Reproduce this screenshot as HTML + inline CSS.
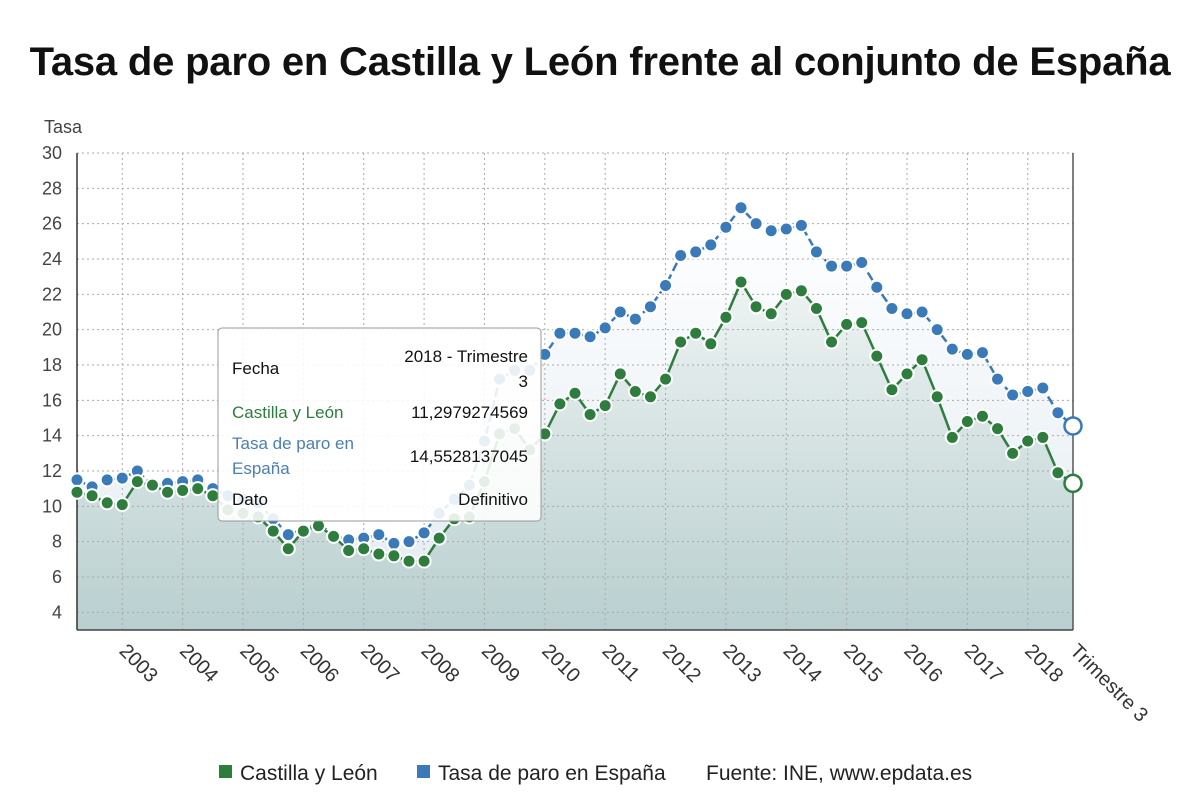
<!DOCTYPE html>
<html><head><meta charset="utf-8"><style>
body{margin:0;background:#fff;font-family:"Liberation Sans",sans-serif;}
#wrap{position:relative;width:1200px;height:808px;overflow:hidden;}
h1{position:absolute;left:0;top:40px;width:1200px;margin:0;text-align:center;font-size:40px;font-weight:bold;color:#111;letter-spacing:-0.2px;}
</style></head><body>
<div id="wrap">
<h1>Tasa de paro en Castilla y León frente al conjunto de España</h1>
<svg id="svg" width="1200" height="808" style="position:absolute;left:0;top:0"></svg>
</div>
<script>
const years=["2003","2004","2005","2006","2007","2008","2009","2010","2011","2012","2013","2014","2015","2016","2017","2018","Trimestre 3"];
const yTicks=[4,6,8,10,12,14,16,18,20,22,24,26,28,30];
const spain=[11.5,11.1,11.5,11.6,12.0,11.2,11.3,11.4,11.5,11.0,10.6,10.4,10.2,9.3,8.4,8.7,9.0,8.4,8.1,8.2,8.4,7.9,8.0,8.5,9.6,10.4,11.2,13.7,17.2,17.7,17.7,18.6,19.8,19.8,19.6,20.1,21.0,20.6,21.3,22.5,24.2,24.4,24.8,25.8,26.9,26.0,25.6,25.7,25.9,24.4,23.6,23.6,23.8,22.4,21.2,20.9,21.0,20.0,18.9,18.6,18.7,17.2,16.3,16.5,16.7,15.3,14.55];
const cyl=[10.8,10.6,10.2,10.1,11.4,11.2,10.8,10.9,11.0,10.6,9.8,9.6,9.4,8.6,7.6,8.6,8.9,8.3,7.5,7.6,7.3,7.2,6.9,6.9,8.2,9.3,9.4,11.4,14.1,14.4,13.2,14.1,15.8,16.4,15.2,15.7,17.5,16.5,16.2,17.2,19.3,19.8,19.2,20.7,22.7,21.3,20.9,22.0,22.2,21.2,19.3,20.3,20.4,18.5,16.6,17.5,18.3,16.2,13.9,14.8,15.1,14.4,13.0,13.7,13.9,11.9,11.3];
const NS="http://www.w3.org/2000/svg";
const svg=document.getElementById('svg');
const X0=77,X1=1073,Y0=630,Y1=153,YMIN=3,YMAX=30;
const n=spain.length;
const xs=i=>X0+i*(X1-X0)/(n-1);
const ys=v=>Y0-(v-YMIN)*(Y0-Y1)/(YMAX-YMIN);
function mk(t,a,p){const e=document.createElementNS(NS,t);for(const k in a)e.setAttribute(k,a[k]);(p||svg).appendChild(e);return e;}
const defs=mk('defs',{});
const g1=mk('linearGradient',{id:'gA',x1:0,y1:0,x2:0,y2:1},defs);
mk('stop',{offset:'0','stop-color':'#ffffff','stop-opacity':'1'},g1);
mk('stop',{offset:'1','stop-color':'#e2ebf2','stop-opacity':'1'},g1);
const g2=mk('linearGradient',{id:'gB',x1:0,y1:0,x2:0,y2:1},defs);
mk('stop',{offset:'0','stop-color':'#eef3f3'},g2);
mk('stop',{offset:'1','stop-color':'#b9cfcf'},g2);
function areaPath(arr){let d='M'+xs(0)+','+Y0;arr.forEach((v,i)=>d+=' L'+xs(i)+','+ys(v));return d+' L'+xs(n-1)+','+Y0+'Z';}
const a1=mk('path',{d:areaPath(spain),fill:'url(#gA)'});


const a2=mk('path',{d:areaPath(cyl),fill:'url(#gB)'});


yTicks.forEach(v=>{
 const l=mk('line',{x1:X0,x2:X1,y1:ys(v),y2:ys(v),stroke:'#aaa','stroke-dasharray':'2,3','stroke-width':1});
 
 
 const t=mk('text',{x:62,y:ys(v)+6,'text-anchor':'end','font-size':18,fill:'#444'});
 t.textContent=v;
 
 
});
years.forEach((y,k)=>{
 const i=k<16?4*k+3:n-1;
 const x=xs(i);
 if(k<16){const l=mk('line',{x1:x,x2:x,y1:Y1,y2:Y0,stroke:'#aaa','stroke-dasharray':'2,3'});
 
 }
 const t=mk('text',{x:x-4,y:Y0+22,'font-size':20,fill:'#333',transform:`rotate(45 ${x-4} ${Y0+22})`});
 t.textContent=y;
 
 
});
mk('line',{x1:X0,x2:X0,y1:Y1,y2:Y0,stroke:'#333','stroke-width':1.5});
mk('line',{x1:X1,x2:X1,y1:Y1,y2:Y0,stroke:'#555','stroke-width':1.5});
mk('line',{x1:X0,x2:X1,y1:Y0,y2:Y0,stroke:'#444','stroke-width':1.5});
const yt=mk('text',{x:44,y:133,'font-size':18,fill:'#444'});yt.textContent='Tasa';


function series(arr,col,name){
 let d='';arr.forEach((v,i)=>d+=(i?' L':'M')+xs(i)+','+ys(v));
 const p=mk('path',{d,fill:'none',stroke:col,'stroke-width':2.5,'stroke-dasharray':name==='spain'?'9,4':'none'});
 
 
 arr.forEach((v,i)=>{
  const last=i===n-1;
  const c=mk('circle',{cx:xs(i),cy:ys(v),r:last?8.5:6.5,fill:last?'#fff':col,stroke:last?col:'#fff','stroke-width':last?2.5:2});
  
  
 });
}
series(spain,'#3a7ab8','spain');
series(cyl,'#2e7d3e','cyl');
const tg=mk('g',{});


mk('rect',{x:218,y:328,width:323,height:193,rx:4,fill:'#fff','fill-opacity':0.88,stroke:'#999','stroke-width':1},tg);
const rows=[[232,374,'Fecha','#111','start'],[528,362,'2018 - Trimestre','#111','end'],[528,387,'3','#111','end'],[232,418,'Castilla y León','#2e7d3e','start'],[528,418,'11,2979274569','#111','end'],[232,449,'Tasa de paro en','#4a7fb0','start'],[232,474,'España','#4a7fb0','start'],[528,462,'14,5528137045','#111','end'],[232,505,'Dato','#111','start'],[528,505,'Definitivo','#111','end']];
rows.forEach(r=>{const t=mk('text',{x:r[0],y:r[1],fill:r[3],'text-anchor':r[4],'font-size':17},tg);t.textContent=r[2];});
const lg=mk('g',{});


const le1=mk('rect',{x:219,y:765,width:13,height:13,fill:'#2e7d3e'},lg);


const lt1=mk('text',{x:240,y:780,'font-size':21,fill:'#222'},lg);lt1.textContent='Castilla y León';
const le2=mk('rect',{x:417,y:765,width:13,height:13,fill:'#3a7ab8'},lg);


const lt2=mk('text',{x:438,y:780,'font-size':21,fill:'#222'},lg);lt2.textContent='Tasa de paro en España';
const src=mk('text',{x:706,y:780,'font-size':21,fill:'#222'},lg);src.textContent='Fuente: INE, www.epdata.es';


</script>
</body></html>
